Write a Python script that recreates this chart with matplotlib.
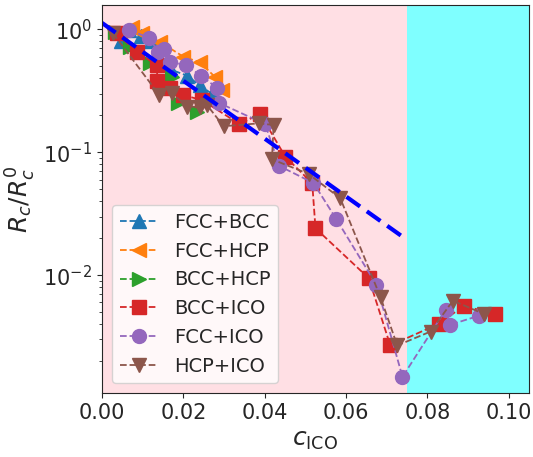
import numpy as np
import matplotlib
matplotlib.use('Agg')
import matplotlib.pyplot as plt
import seaborn as sns

sns.set_style('ticks')

# FCC+BCC
fcc_bcc_x = [0.0047, 0.0067, 0.0097, 0.012, 0.014, 0.017, 0.021, 0.024, 0.027]
fcc_bcc_y = [0.80, 0.99, 0.88, 0.80, 0.60, 0.47, 0.42, 0.35, 0.30]
# FCC+HCP
fcc_hcp_x = [0.0044, 0.0073, 0.0098, 0.0143, 0.020, 0.0241, 0.0278, 0.0296]
fcc_hcp_y = [0.93, 1.05, 0.93, 0.79, 0.60, 0.54, 0.41, 0.32]
# BCC+HCP
bcc_hcp_x = [0.0032, 0.0069, 0.0118, 0.0172, 0.0188, 0.0233]
bcc_hcp_y = [0.956, 0.722, 0.529, 0.412, 0.25, 0.214]
# BCC+ICO
bcc_ico_x = [0.0036, 0.0085, 0.0135, 0.0136, 0.0167, 0.020, 0.0246, 0.0338, 0.0389,
             0.0451, 0.0517, 0.0525, 0.0656, 0.0709, 0.0828, 0.089, 0.0966]
bcc_ico_y = [0.928, 0.658, 0.513, 0.38, 0.331, 0.292, 0.266, 0.17, 0.205,
             0.092, 0.056, 0.0241, 0.00946, 0.00268, 0.00402, 0.00563, 0.00484]
# FCC+ICO
fcc_ico_x = [0.0067, 0.0116, 0.0138, 0.0153, 0.0167, 0.0207, 0.0244, 0.0283, 0.0288,
             0.0401, 0.0436, 0.052, 0.0576, 0.0675, 0.0739, 0.0845, 0.0855, 0.0926]
fcc_ico_y = [0.987, 0.855, 0.658, 0.692, 0.545, 0.513, 0.417, 0.335, 0.252,
             0.17, 0.0774, 0.0563, 0.0287, 0.00834, 0.00149, 0.00522, 0.00394, 0.00467]
# HCP+ICO
hcp_ico_x = [0.0027, 0.0141, 0.0172, 0.021, 0.0241, 0.0258, 0.0299, 0.0385, 0.0422,
             0.0418, 0.0508, 0.0586, 0.0685, 0.0726, 0.0808, 0.0863, 0.0939]
hcp_ico_y = [0.93, 0.292, 0.302, 0.235, 0.235, 0.243, 0.163, 0.172, 0.167,
             0.0878, 0.0667, 0.0423, 0.00662, 0.00268, 0.00348, 0.00621, 0.00484]

# exponential fit line (end points)
fit_x = [0.0, 0.075]
fit_y = [1.13, 0.0194]

fig = plt.figure(figsize=(5.33, 4.57), dpi=100)
ax = fig.add_axes([0.1914, 0.140, 0.801, 0.849])

ax.axvspan(0, 0.075, color='pink', alpha=0.5, lw=0)
ax.axvspan(0.075, 0.105, color='cyan', alpha=0.5, lw=0)

series = [
    (fcc_bcc_x, fcc_bcc_y, '^', 'FCC+BCC'),
    (fcc_hcp_x, fcc_hcp_y, '<', 'FCC+HCP'),
    (bcc_hcp_x, bcc_hcp_y, '>', 'BCC+HCP'),
    (bcc_ico_x, bcc_ico_y, 's', 'BCC+ICO'),
    (fcc_ico_x, fcc_ico_y, 'o', 'FCC+ICO'),
    (hcp_ico_x, hcp_ico_y, 'v', 'HCP+ICO'),
]
for x, y, m, lab in series:
    ax.plot(x, y, '--', marker=m, markersize=10, lw=1.3, label=lab)

ax.plot(fit_x, fit_y, '--', color='blue', lw=3, dashes=(4, 2))

ax.set_yscale('log')
ax.set_xlim(0, 0.105)
ax.set_ylim(1.1e-3, 1.58)
ax.set_xticks([0.0, 0.02, 0.04, 0.06, 0.08, 0.10])
ax.set_xticklabels(['0.00', '0.02', '0.04', '0.06', '0.08', '0.10'])
ax.tick_params(labelsize=15)
ax.set_xlabel(r'$c_{\mathrm{ICO}}$', fontsize=18)
ax.set_ylabel(r'$R_c/R_c^0$', fontsize=18)
ax.legend(loc='lower left', fontsize=14)

fig.savefig('out.png', dpi=100)
